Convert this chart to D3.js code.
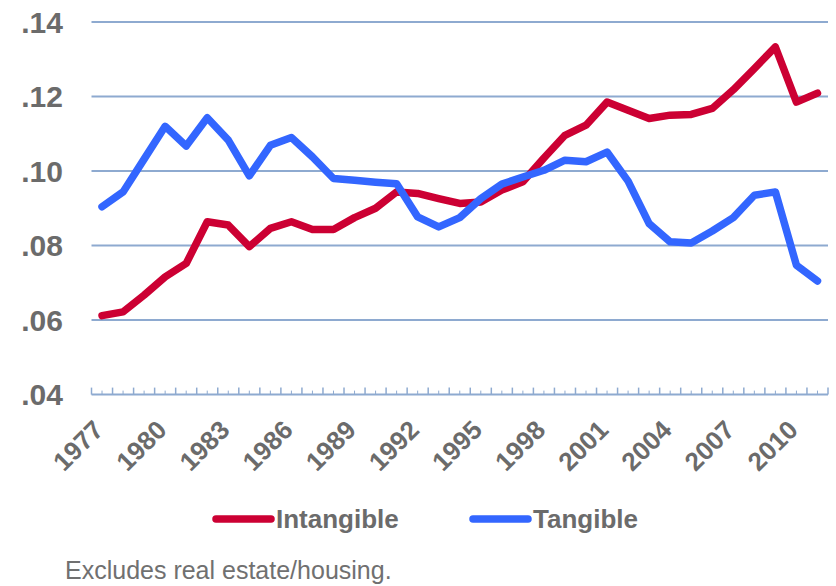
<!DOCTYPE html>
<html>
<head>
<meta charset="utf-8">
<script src="https://cdn.jsdelivr.net/npm/d3@7"></script>
<style>
    body { margin: 0; background: #fff; }
    svg { display: block; font-family: Arial, 'Liberation Sans', sans-serif; }
</style>
</head>
<body>
<svg id="chart" width="836" height="586"></svg>
<script>
const years = d3.range(1977, 2012);
const intangible = [
    0.0612, 0.0622, 0.0667, 0.0716, 0.0752, 0.0864, 0.0855, 0.0797, 0.0846, 0.0864,
    0.0843, 0.0843, 0.0875, 0.0900, 0.0944, 0.0940, 0.0926, 0.0913, 0.0917, 0.0949,
    0.0971, 0.1035, 0.1096, 0.1123, 0.1185, 0.1163, 0.1141, 0.1150, 0.1152, 0.1168,
    0.1218, 0.1275, 0.1333, 0.1185, 0.1209,
];
const tangible = [
    0.0904, 0.0944, 0.1032, 0.1120, 0.1067, 0.1143, 0.1083, 0.0987, 0.1069, 0.1090,
    0.1038, 0.0980, 0.0975, 0.0970, 0.0966, 0.0877, 0.0850, 0.0875, 0.0926, 0.0965,
    0.0984, 0.1002, 0.1029, 0.1025, 0.1051, 0.0973, 0.0859, 0.0810, 0.0807, 0.0839,
    0.0875, 0.0935, 0.0944, 0.0747, 0.0705,
];
const yTicks = [0.04, 0.06, 0.08, 0.10, 0.12, 0.14];
const labelYears = years.filter(y => (y - 1977) % 3 === 0);
const seriesNames = ['Intangible', 'Tangible'];

const COLORS = { Intangible: '#cc0033', Tangible: '#3366ff' };
const TEXT = '#6b6b6b';
const GRID = '#8eaad0';

const margin = { top: 22, right: 8, bottom: 191, left: 91.5 };
const width = 836;
const height = 586;

const svg = d3.select('#chart');

const x = d3.scaleBand()
    .domain(years)
    .range([margin.left, width - margin.right])
    .padding(0);
const y = d3.scaleLinear()
    .domain([0.04, 0.14])
    .range([height - margin.bottom - 0.4, margin.top]);
const cx = yr => x(yr) + x.bandwidth() / 2;

// gridlines (skip the bottom one, that's the axis)
svg.append('g')
    .selectAll('line')
    .data(yTicks.slice(1))
    .join('line')
    .attr('x1', margin.left)
    .attr('x2', width - margin.right)
    .attr('y1', d => y(d))
    .attr('y2', d => y(d))
    .attr('stroke', GRID)
    .attr('stroke-width', 2);

// y labels
svg.append('g')
    .selectAll('text')
    .data(yTicks)
    .join('text')
    .attr('x', 63)
    .attr('y', d => y(d))
    .attr('dy', '0.36em')
    .attr('text-anchor', 'end')
    .attr('fill', TEXT)
    .attr('font-weight', 'bold')
    .attr('font-size', 30)
    .text(d => d3.format('.2f')(d).replace(/^0/, ''));

// x axis: tall ticks at band edges, short ones at band centres
const axisY = y(0.04);
const xAxis = svg.append('g');
xAxis.append('line')
    .attr('x1', margin.left)
    .attr('x2', width - margin.right)
    .attr('y1', axisY)
    .attr('y2', axisY)
    .attr('stroke', GRID)
    .attr('stroke-width', 2);

const edges = years.map(yr => x(yr)).concat([x(years[years.length - 1]) + x.bandwidth()]);
xAxis.selectAll('line.major')
    .data(edges)
    .join('line')
    .attr('class', 'major')
    .attr('x1', d => d)
    .attr('x2', d => d)
    .attr('y1', axisY)
    .attr('y2', axisY - 7)
    .attr('stroke', GRID)
    .attr('stroke-width', 1.5);
xAxis.selectAll('line.minor')
    .data(years)
    .join('line')
    .attr('class', 'minor')
    .attr('x1', d => cx(d))
    .attr('x2', d => cx(d))
    .attr('y1', axisY)
    .attr('y2', axisY - 4)
    .attr('stroke', GRID)
    .attr('stroke-width', 1);

xAxis.selectAll('text')
    .data(labelYears)
    .join('text')
    .attr('transform', d => `translate(${cx(d) + 3},${axisY + 37}) rotate(-45)`)
    .attr('text-anchor', 'end')
    .attr('fill', TEXT)
    .attr('font-weight', 'bold')
    .attr('font-size', 26)
    .text(d => d);

// lines
const line = d3.line()
    .x((d, i) => cx(years[i]))
    .y(d => y(d));

svg.append('g')
    .selectAll('path')
    .data([
        { name: 'Intangible', values: intangible },
        { name: 'Tangible', values: tangible },
    ])
    .join('path')
    .attr('d', d => line(d.values))
    .attr('fill', 'none')
    .attr('stroke', d => COLORS[d.name])
    .attr('stroke-width', 7.5)
    .attr('stroke-linejoin', 'round')
    .attr('stroke-linecap', 'round');

// legend
const legend = svg.append('g')
    .selectAll('g')
    .data(seriesNames)
    .join('g')
    .attr('transform', (d, i) => `translate(${216 + i * 257},519)`);
legend.append('line')
    .attr('x1', 0)
    .attr('x2', 55)
    .attr('stroke', d => COLORS[d])
    .attr('stroke-width', 7.5)
    .attr('stroke-linecap', 'round');
legend.append('text')
    .attr('x', 60)
    .attr('y', 9)
    .attr('fill', TEXT)
    .attr('font-weight', 'bold')
    .attr('font-size', 26)
    .text(d => d);

svg.append('text')
    .attr('x', 65)
    .attr('y', 579)
    .attr('fill', '#707070')
    .attr('font-size', 25)
    .text('Excludes real estate/housing.');
</script>
</body>
</html>
